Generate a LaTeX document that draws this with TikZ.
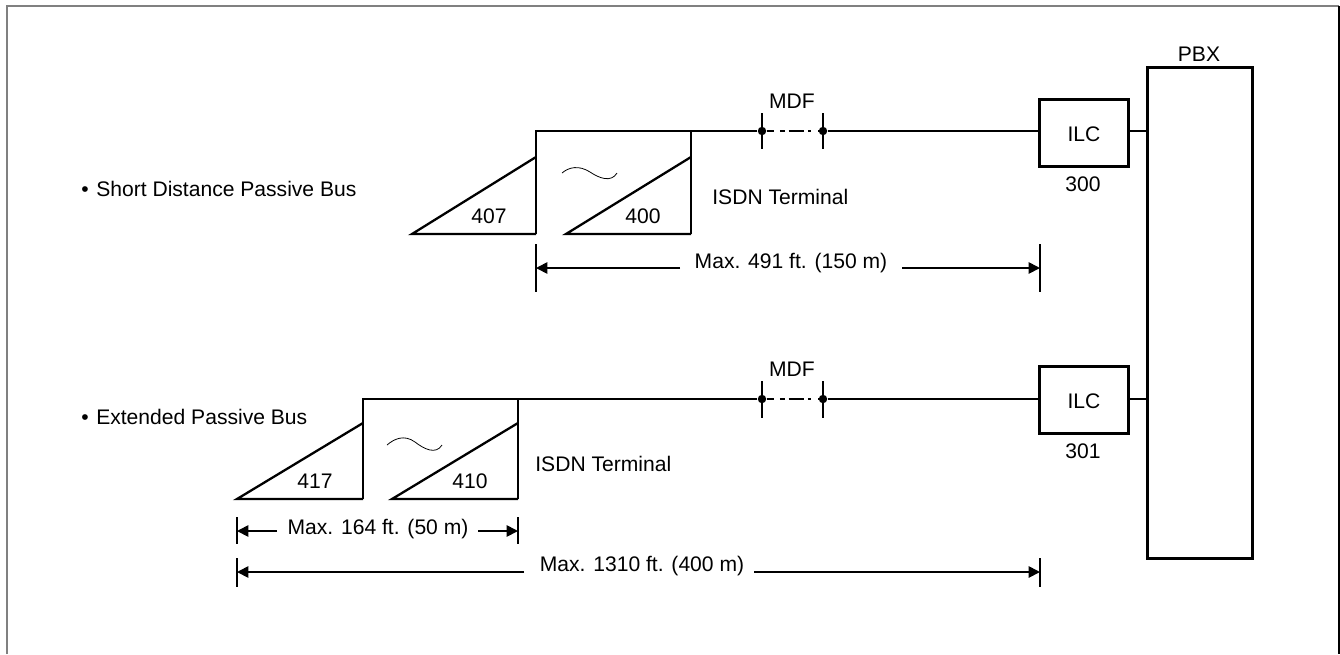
\documentclass[tikz,border=0pt]{standalone}
\usepackage{fontspec}
\setmainfont{Liberation Sans}
\usetikzlibrary{arrows.meta}
\definecolor{framegray}{gray}{0.5}
\tikzset{
    wire/.style={line width=1.05pt},
    termline/.style={line width=1.3pt,line join=miter},
    heavybox/.style={draw,line width=1.7pt,inner sep=0pt,anchor=north west},
    tag/.style={inner sep=0pt,font=\fontsize{12}{14}\selectfont},
    dimtip/.style={line width=1pt,-{Triangle[length=6.5pt,width=6.5pt]}},
    tickline/.style={line width=0.95pt},
    dot/.style={circle,fill,inner sep=0pt,minimum size=4.8pt},
    breakline/.style={line width=1.05pt,dash pattern=on 4.5pt off 3pt on 3pt off 2pt on 9pt off 2pt on 2pt off 4pt on 4.5pt},
    squiggle/.style={line width=0.45pt}
}
\begin{document}
\begin{tikzpicture}
    [x=0.02cm,y=-0.02cm]
    \useasboundingbox (0,0) rectangle (1340,654);
    %frame
    \coordinate (fbl) at (7,654);
    \coordinate (ftl) at (7,6);
    \coordinate (ftr) at (1339,6);
    \coordinate (fbr) at (1339,654);
    \draw[line width=1.1pt,framegray] (fbl)--(ftl)--(ftr);
    \draw[line width=0.6pt] (ftr)--(fbr);
    %pbx and line cards
    \node[heavybox,minimum width=2.1cm,minimum height=9.82cm] (pbx) at (1146,66) {};
    \node[tag] (pbxlabel) at (1199,54) {PBX};
    \node[heavybox,minimum width=1.78cm,minimum height=1.34cm] (ilcA) at (1038,98) {};
    \node[tag] (ilcAlabel) at (1084,134) {ILC};
    \node[tag] (cardA) at (1083,184) {300};
    \node[heavybox,minimum width=1.78cm,minimum height=1.34cm] (ilcB) at (1038,365) {};
    \node[tag] (ilcBlabel) at (1084,401) {ILC};
    \node[tag] (cardB) at (1083,451) {301};
    %upper bus
    \coordinate (topA) at (536,131);
    \coordinate (cornerA) at (691,131);
    \coordinate (tipA) at (412,234);
    \coordinate (baseA) at (536,234);
    \coordinate (tipB) at (566,234);
    \coordinate (baseB) at (691,234);
    \coordinate (midA) at (536,157);
    \coordinate (midB) at (691,157);
    \node[dot] (mdfAa) at (762,131) {};
    \node[dot] (mdfAb) at (823,131) {};
    \draw[wire] (baseA)--(topA)--(mdfAa);
    \draw[wire] (baseB)--(cornerA);
    \draw[breakline] (mdfAa)--(mdfAb);
    \draw[wire] (mdfAb)--(ilcA.west |- mdfAb);
    \draw[wire] (ilcA.east |- mdfAb)--(pbx.west |- mdfAb);
    \draw[termline] (midA)--(tipA)--(baseA);
    \draw[termline] (midB)--(tipB)--(baseB);
    \coordinate (tickAat) at (762,113);
    \coordinate (tickAab) at (762,149);
    \coordinate (tickAbt) at (823,113);
    \coordinate (tickAbb) at (823,149);
    \draw[tickline] (tickAat)--(tickAab);
    \draw[tickline] (tickAbt)--(tickAbb);
    \draw[squiggle] (562,173) .. controls (569,167) and (579,165) .. (590,172)
        .. controls (599,178) and (611,183) .. (617,173);
    \node[tag] (numA) at (489,216) {407};
    \node[tag] (numB) at (643,216) {400};
    \node[tag] (mdfA) at (792,101) {MDF};
    \node[tag,anchor=west] (termA) at (712,197) {ISDN Terminal};
    \node[tag,anchor=west] (busA) at (81,189) {•\hspace{4.3pt}Short Distance Passive Bus};
    %upper dimension
    \coordinate (dimAlt) at (536,244);
    \coordinate (dimAlb) at (536,292);
    \coordinate (dimArt) at (1040,244);
    \coordinate (dimArb) at (1040,292);
    \coordinate (dimAl) at (536,268);
    \coordinate (dimAr) at (1040,268);
    \node[tag] (dimAtext) at (791,263) {Max. 491 ft. (150 m)};
    \coordinate (dimAls) at (680,268);
    \coordinate (dimArs) at (902,268);
    \draw[tickline] (dimAlt)--(dimAlb);
    \draw[tickline] (dimArt)--(dimArb);
    \draw[dimtip] (dimAls)--(dimAl);
    \draw[dimtip] (dimArs)--(dimAr);
    %lower bus
    \coordinate (topB) at (363,399);
    \coordinate (cornerB) at (518,399);
    \coordinate (tipC) at (237,499);
    \coordinate (baseC) at (363,499);
    \coordinate (tipD) at (392,499);
    \coordinate (baseD) at (518,499);
    \coordinate (midC) at (363,423);
    \coordinate (midD) at (518,423);
    \node[dot] (mdfBa) at (762,399) {};
    \node[dot] (mdfBb) at (823,399) {};
    \draw[wire] (baseC)--(topB)--(mdfBa);
    \draw[wire] (baseD)--(cornerB);
    \draw[breakline] (mdfBa)--(mdfBb);
    \draw[wire] (mdfBb)--(ilcB.west |- mdfBb);
    \draw[wire] (ilcB.east |- mdfBb)--(pbx.west |- mdfBb);
    \draw[termline] (midC)--(tipC)--(baseC);
    \draw[termline] (midD)--(tipD)--(baseD);
    \coordinate (tickBat) at (762,381);
    \coordinate (tickBab) at (762,418);
    \coordinate (tickBbt) at (823,381);
    \coordinate (tickBbb) at (823,418);
    \draw[tickline] (tickBat)--(tickBab);
    \draw[tickline] (tickBbt)--(tickBbb);
    \draw[squiggle] (387,445) .. controls (394,439) and (404,434) .. (415,442)
        .. controls (424,449) and (436,455) .. (442,445);
    \node[tag] (numC) at (315,481) {417};
    \node[tag] (numD) at (470,481) {410};
    \node[tag] (mdfB) at (792,369) {MDF};
    \node[tag,anchor=west] (termB) at (535,464) {ISDN Terminal};
    \node[tag,anchor=west] (busB) at (81,417) {•\hspace{4.3pt}Extended Passive Bus};
    %lower dimensions
    \coordinate (dimBlt) at (237,517);
    \coordinate (dimBlb) at (237,544);
    \coordinate (dimBrt) at (518,517);
    \coordinate (dimBrb) at (518,544);
    \coordinate (dimBl) at (237,531);
    \coordinate (dimBr) at (518,531);
    \node[tag] (dimBtext) at (378,529) {Max. 164 ft. (50 m)};
    \coordinate (dimBls) at (277,531);
    \coordinate (dimBrs) at (478,531);
    \draw[tickline] (dimBlt)--(dimBlb);
    \draw[tickline] (dimBrt)--(dimBrb);
    \draw[dimtip] (dimBls)--(dimBl);
    \draw[dimtip] (dimBrs)--(dimBr);
    \coordinate (dimClt) at (237,558);
    \coordinate (dimClb) at (237,587);
    \coordinate (dimCrt) at (1040,558);
    \coordinate (dimCrb) at (1040,587);
    \coordinate (dimCl) at (237,572);
    \coordinate (dimCr) at (1040,572);
    \node[tag] (dimCtext) at (642,566) {Max. 1310 ft. (400 m)};
    \coordinate (dimCls) at (524,572);
    \coordinate (dimCrs) at (754,572);
    \draw[tickline] (dimClt)--(dimClb);
    \draw[tickline] (dimCrt)--(dimCrb);
    \draw[dimtip] (dimCls)--(dimCl);
    \draw[dimtip] (dimCrs)--(dimCr);
\end{tikzpicture}
\end{document}
